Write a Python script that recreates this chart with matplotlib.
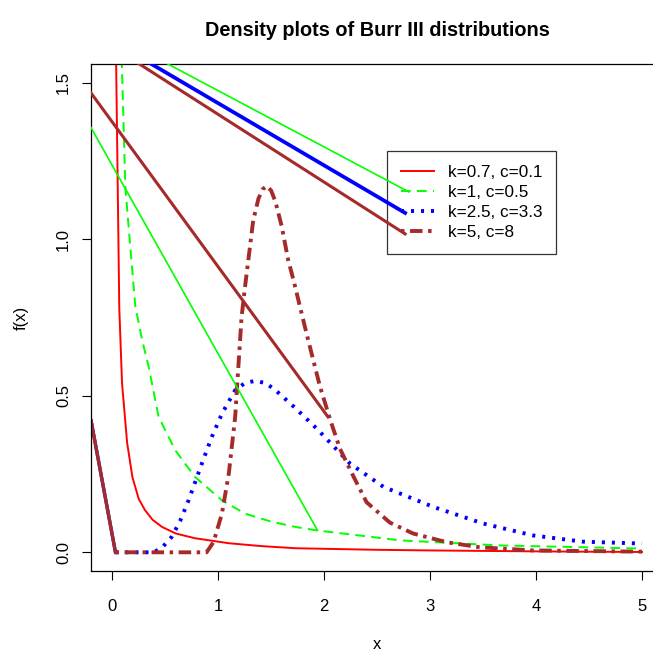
import numpy as np
import matplotlib.pyplot as plt
from matplotlib.lines import Line2D

plt.rcParams['font.family'] = ['Liberation Sans', 'DejaVu Sans']
plt.rcParams['lines.scale_dashes'] = False

# k=0.7, c=0.1
x_red = [0.033, 0.066, 0.092, 0.14, 0.19, 0.25, 0.31, 0.38, 0.47, 0.6, 0.78, 1.1, 1.4, 1.73, 2.5, 3.0, 4.0, 5.0]
y_red = [1.65, 0.78, 0.54, 0.35, 0.24, 0.17, 0.134, 0.104, 0.081, 0.06, 0.045, 0.029, 0.02, 0.013, 0.008,
         0.006, 0.003, 0.001]

# k=1, c=0.5
x_green = [0.08, 0.123, 0.154, 0.217, 0.28, 0.343, 0.437, 0.594, 0.78, 1.035, 1.25, 1.5, 1.73, 1.93, 2.72,
           3.66, 5.0]
y_green = [1.68, 1.168, 1.04, 0.787, 0.68, 0.593, 0.433, 0.326, 0.241, 0.166, 0.124, 0.098, 0.081, 0.07,
           0.038, 0.022, 0.012]

# k=2.5, c=3.3
x_blue = [-0.2, 0.03, 0.39, 0.47, 0.56, 0.64, 0.72, 0.846, 0.94, 1.035, 1.16, 1.25, 1.35, 1.45,
          1.54, 1.73, 1.93, 2.245, 2.56, 3.03, 3.5, 3.97, 4.44, 5.0]
y_blue = [0.42, 0.0, 0.0, 0.015, 0.049, 0.10, 0.166, 0.284, 0.369, 0.443, 0.518, 0.54, 0.548, 0.54,
          0.518, 0.46, 0.395, 0.283, 0.209, 0.145, 0.092, 0.054, 0.034, 0.028]

# k=5, c=8
x_brown = [-0.2, 0.03, 0.89, 0.956, 1.035, 1.1, 1.16, 1.19, 1.22, 1.25, 1.29, 1.33, 1.38, 1.42, 1.46,
           1.50, 1.54, 1.6, 1.66, 1.71, 1.84, 1.96, 2.06, 2.15, 2.28, 2.4, 2.62, 2.84, 3.16, 3.47,
           3.97, 4.5, 5.0]
y_brown = [0.42, 0.0, 0.0, 0.033, 0.124, 0.252, 0.433, 0.593, 0.75, 0.84, 0.95, 1.06, 1.13, 1.16, 1.17,
           1.155, 1.12, 1.04, 0.934, 0.87, 0.69, 0.53, 0.42, 0.33, 0.24, 0.16, 0.095, 0.06, 0.032, 0.016,
           0.006, 0.004, 0.002]

# stray straight segments (x0, y0, x1, y1)
seg_green = [(-0.3, 1.416, 1.937, 0.070), (0.0, 1.654, 2.80, 1.151)]
seg_blue = [(0.0, 1.633, 2.764, 1.084)]
seg_brown = [(-0.3, 1.513, 2.035, 0.433), (0.0, 1.615, 2.764, 1.017)]

labels = ['k=0.7, c=0.1', 'k=1, c=0.5', 'k=2.5, c=3.3', 'k=5, c=8']

RED, GREEN, BLUE, BROWN = '#FF0000', '#00FF00', '#0000FF', '#A52A2A'
ls_dash = (0, (7, 4.5))
ls_dot = (0, (2.2, 5))
ls_dashdot = (0, (2.5, 4, 9, 4))

fig = plt.figure(figsize=(6.53, 6.53), dpi=100)
ax = fig.add_axes([91.1 / 653, 1 - 571.1 / 653, 572.1 / 653, 507.2 / 653])

ax.plot(x_red, y_red, color=RED, lw=1.4)
ax.plot(x_green, y_green, color=GREEN, lw=1.4, linestyle=ls_dash)
# first leg of blue/brown comes in solid from the left edge
ax.plot(x_blue[:2], y_blue[:2], color=BLUE, lw=2.4)
ax.plot(x_blue[1:], y_blue[1:], color=BLUE, lw=2.8, linestyle=ls_dot)
ax.plot(x_brown[:2], y_brown[:2], color=BROWN, lw=2.4)
ax.plot(x_brown[1:], y_brown[1:], color=BROWN, lw=2.8, linestyle=ls_dashdot)

# these run over the legend box
for x0, y0, x1, y1 in seg_green:
    ax.plot([x0, x1], [y0, y1], color=GREEN, lw=1.2, zorder=6)
for x0, y0, x1, y1 in seg_blue:
    ax.plot([x0, x1], [y0, y1], color=BLUE, lw=2.7, zorder=6)
for x0, y0, x1, y1 in seg_brown:
    ax.plot([x0, x1], [y0, y1], color=BROWN, lw=2.2, zorder=6)

ax.set_xlim(-0.2, 5.2)
ax.set_ylim(-0.06, 1.56)
ax.set_xticks([0, 1, 2, 3, 4, 5])
ax.set_yticks([0.0, 0.5, 1.0, 1.5])
ax.set_yticklabels(['0.0', '0.5', '1.0', '1.5'], rotation=90, va='center')
ax.tick_params(axis='both', direction='out', length=6.5, width=0.8, labelsize=12)
ax.tick_params(axis='x', pad=13.5)
ax.tick_params(axis='y', pad=8)
for sp in ax.spines.values():
    sp.set_linewidth(0.9)

ax.set_xlabel('x', fontsize=12, labelpad=16.5)
ax.set_ylabel('f(x)', fontsize=12, labelpad=19.5)
fig.text(377 / 653, 1 - 30 / 653, 'Density plots of Burr III distributions',
         ha='center', va='center', fontsize=14.3, fontweight='bold')

handles = [
    Line2D([], [], color=RED, lw=1.4),
    Line2D([], [], color=GREEN, lw=1.4, linestyle=ls_dash),
    Line2D([], [], color=BLUE, lw=2.8, linestyle=ls_dot),
    Line2D([], [], color=BROWN, lw=2.8, linestyle=ls_dashdot),
]
leg = ax.legend(handles, labels, loc='upper left', bbox_to_anchor=(387 / 653, 1 - 151 / 653),
                bbox_transform=fig.transFigure, fontsize=12.3, frameon=True, fancybox=False,
                framealpha=1, edgecolor='#333333', borderpad=0.8, labelspacing=0.3,
                handlelength=1.95, handletextpad=0.8, borderaxespad=0)
leg.get_frame().set_linewidth(0.9)

fig.savefig('out.png', dpi=100)
